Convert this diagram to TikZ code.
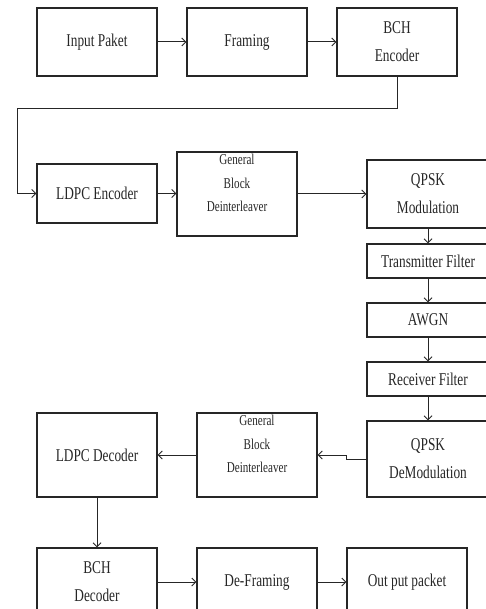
\documentclass[tikz,border=0pt]{standalone}
\usepackage{fontspec}
\usetikzlibrary{arrows.meta}
\setmainfont{Liberation Serif}
\newfontfamily\narrowserif[FakeStretch=0.74]{Liberation Serif}
\tikzset{
  blk/.style={draw=black!85,line width=1.1pt,minimum width=120pt,
    font=\narrowserif\fontsize{18}{28}\selectfont,align=center,text=black!85},
  gbd/.style={blk,minimum height=84pt},
  gbdtext/.style={font=\narrowserif\fontsize{15}{23.5}\selectfont,align=center,text=black!85,yshift=11pt},
  flow/.style={-{Straight Barb[length=4pt,width=8pt]},draw=black!85,line width=1pt}
}
\begin{document}
\begin{tikzpicture}[x=1pt,y=-1pt]
	\useasboundingbox (0,0) rectangle (486,609);
	\clip (0,0) rectangle (486,609);
	% transmitter chain
	\node[blk,minimum height=68pt] (inpak) at (97,42) {Input Paket};
	\node[blk,minimum height=68pt] (fram) at (247,42) {Framing};
	\node[blk,minimum height=68pt] (bchenc) at (397,42) {BCH\\Encoder};
	\node[blk,minimum height=59pt] (ldpcenc) at (97,193.5) {LDPC Encoder};
	\node[gbd,label={[gbdtext]center:General\\Block\\Deinterleaver}] (gbdenc) at (237,194) {};
	\node[blk,minimum width=122pt,minimum height=68pt] (qpskmod) at (428,194) {QPSK\\Modulation};
	% channel
	\node[blk,minimum width=122pt,minimum height=34pt] (txfilt) at (428,261) {Transmitter Filter};
	\node[blk,minimum width=122pt,minimum height=34pt] (awgn) at (428,320) {AWGN};
	\node[blk,minimum width=122pt,minimum height=34pt] (rxfilt) at (428,379) {Receiver Filter};
	% receiver chain
	\node[blk,minimum width=122pt,minimum height=76pt] (qpskdem) at (428,459) {QPSK\\DeModulation};
	\node[gbd,label={[gbdtext]center:General\\Block\\Deinterleaver}] (gbddec) at (257,455) {};
	\node[gbd] (ldpcdec) at (97,455) {LDPC Decoder};
	\node[blk,minimum height=68pt] (bchdec) at (97,582) {BCH\\Decoder};
	\node[blk,minimum height=68pt] (defram) at (257,582) {De-Framing};
	\node[blk,minimum height=68pt] (outpak) at (407,582) {Out put packet};
	\coordinate (bend) at (17,109);
	\draw[flow] (inpak) -- (fram);
	\draw[flow] (fram) -- (bchenc);
	\draw[flow] (bchenc.south) |- (bend) |- (ldpcenc.west);
	\draw[flow] (ldpcenc) -- (ldpcenc -| gbdenc.west);
	\draw[flow] (gbdenc.east) -- (gbdenc.east -| qpskmod.west);
	\draw[flow] (qpskmod) -- (txfilt);
	\draw[flow] (txfilt) -- (awgn);
	\draw[flow] (awgn) -- (rxfilt);
	\draw[flow] (rxfilt) -- (qpskdem);
	\draw[flow] (qpskdem.west) -- ++(-20,0) |- (gbddec.east);
	\draw[flow] (gbddec) -- (ldpcdec);
	\draw[flow] (ldpcdec) -- (bchdec);
	\draw[flow] (bchdec) -- (defram);
	\draw[flow] (defram) -- (outpak);
\end{tikzpicture}
\end{document}
